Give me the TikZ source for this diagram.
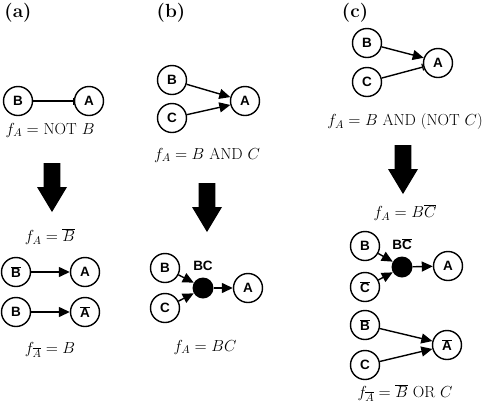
\documentclass[tikz,border=0pt]{standalone}
\usepackage{fix-cm}
\usepackage{fontspec}
\newfontfamily\nodefont{Liberation Sans}
\usetikzlibrary{arrows.meta,positioning}
\newcommand\olbar[1]{$\overline{\mbox{#1}}$}
\begin{document}
\begin{tikzpicture}[x=1pt,y=-1pt,
  gene/.style={circle,draw,line width=1.4pt,minimum size=29pt,inner sep=0pt,
    font=\nodefont\bfseries\fontsize{13.5}{15}\selectfont},
  dotnode/.style={circle,fill=black,minimum size=21pt,inner sep=0pt},
  dotlabel/.style={inner sep=0pt,font=\nodefont\bfseries\fontsize{13.5}{15}\selectfont},
  act/.style={line width=1.4pt,-{Triangle[length=11pt,width=10pt]}},
  inh/.style={line width=1.4pt,-{Bar[width=7pt,line width=1.2pt]}},
  eq/.style={font=\fontsize{16}{19}\selectfont},
  panel/.style={font=\fontsize{19}{22}\selectfont\bfseries},
  pics/downarrow/.style={code={
    \fill[black] (-8.3,0) -- (8.3,0) -- (8.3,24) -- (15,24) -- (0,49)
      -- (-15,24) -- (-8.3,24) -- cycle;}}
]
\useasboundingbox (0,0) rectangle (491,408);

% ---------- (a)
\node[panel] (la) at (18,13) {(a)};
\node[gene] (aB) at (18,101) {B};
\node[gene] (aA) at (89,101) {A};
\draw[inh] (aB) -- (aA);
\node[eq] (aeq1) at (50,130) {$f_A =$ NOT $B$};
\pic at (52,163) {downarrow};
\node[eq] (aeq2) at (50,237) {$f_A = \overline{B}$};
\node[gene] (aB1) at (16,272) {\olbar{B}};
\node[gene] (aA1) at (85,272) {A};
\draw[act] (aB1) -- (aA1);
\node[gene] (aB2) at (16,312) {B};
\node[gene] (aA2) at (85,312) {\olbar{A}};
\draw[act] (aB2) -- (aA2);
\node[eq] (aeq3) at (50,350) {$f_{\overline{A}} = B$};

% ---------- (b)
\node[panel] (lb) at (171,13) {(b)};
\node[gene] (bB) at (172,80) {B};
\node[gene] (bC) at (172,118) {C};
\node[gene] (bA) at (245,101) {A};
\draw[act] (bB) -- (bA.165);
\draw[act] (bC) -- (bA.195);
\node[eq] (beq1) at (207,155) {$f_A = B$ AND $C$};
\pic at (207,183) {downarrow};
\node[gene] (bB2) at (165,268) {B};
\node[gene] (bC2) at (165,308) {C};
\node[dotnode] (bdot) at (203,288) {};
\node[dotlabel,above=6pt of bdot] (bdotl) {BC};
\node[gene] (bA2) at (248,288) {A};
\draw[act] (bB2) -- (bdot.150);
\draw[act] (bC2) -- (bdot.210);
\draw[act] (bdot) -- (bA2);
\node[eq] (beq2) at (205,347) {$f_A = BC$};

% ---------- (c)
\node[panel] (lc) at (355,13) {(c)};
\node[gene] (cB) at (367,43) {B};
\node[gene] (cA) at (438,63) {A};
\node[gene] (cC) at (367,82) {C};
\draw[act] (cB) -- (cA.160);
\draw[inh] (cC) -- (cA.195);
\node[eq] (ceq1) at (405,122) {$f_A = B$ AND (NOT $C$)};
\pic at (403,145) {downarrow};
\node[eq] (ceq2) at (405,213) {$f_A = B\overline{C}$};
\node[gene] (cB2) at (365,246) {B};
\node[gene] (cC2) at (365,287) {\olbar{C}};
\node[dotnode] (cdot) at (402,267) {};
\node[dotlabel,above=6pt of cdot] (cdotl) {B\olbar{C}};
\node[gene] (cA2) at (448,266) {A};
\draw[act] (cB2) -- (cdot.150);
\draw[act] (cC2) -- (cdot.210);
\draw[act] (cdot) -- (cA2);
\node[gene] (cB3) at (365,325) {\olbar{B}};
\node[gene] (cA3) at (447,345) {\olbar{A}};
\node[gene] (cC3) at (365,365) {C};
\draw[act] (cB3) -- (cA3.165);
\draw[act] (cC3) -- (cA3.195);
\node[eq] (ceq3) at (405,393) {$f_{\overline{A}} = \overline{B}$ OR $C$};
\end{tikzpicture}
\end{document}
